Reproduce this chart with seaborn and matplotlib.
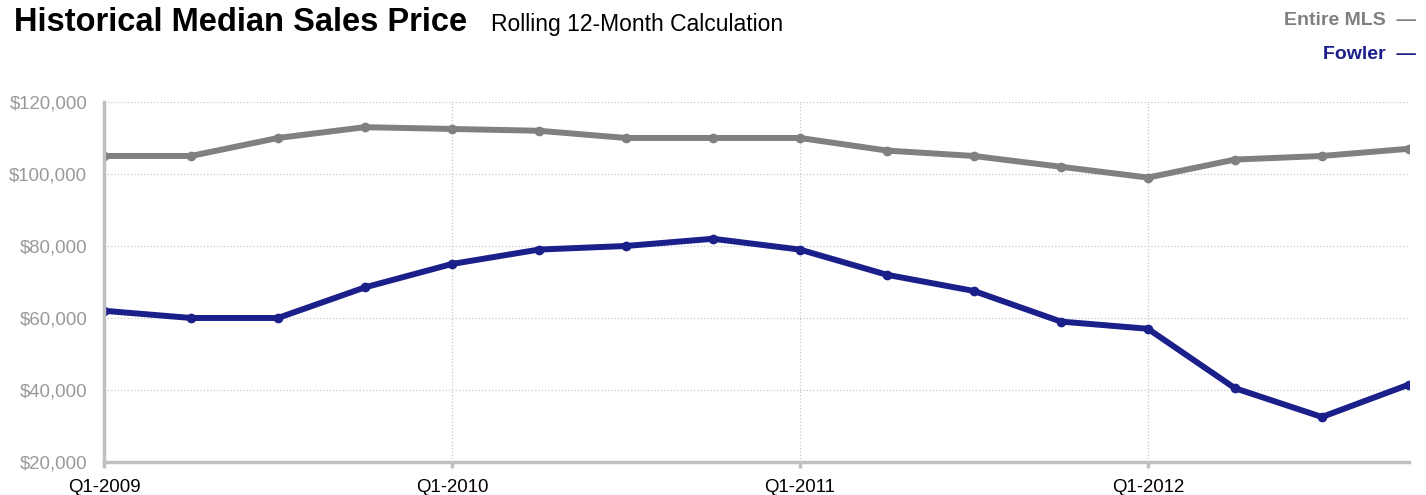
# Historical median sales price, rolling 12-month, Entire MLS vs Fowler

import pandas as pd
import matplotlib
matplotlib.use('Agg')
import matplotlib.pyplot as plt
import seaborn as sns

quarters = ['Q1-2009', 'Q2-2009', 'Q3-2009', 'Q4-2009',
            'Q1-2010', 'Q2-2010', 'Q3-2010', 'Q4-2010',
            'Q1-2011', 'Q2-2011', 'Q3-2011', 'Q4-2011',
            'Q1-2012', 'Q2-2012', 'Q3-2012', 'Q4-2012']
entire_mls = [105000, 105000, 110000, 113000, 112500, 112000, 110000, 110000,
              110000, 106500, 105000, 102000, 99000, 104000, 105000, 107000]
fowler = [62000, 60000, 60000, 68500, 75000, 79000, 80000, 82000,
          79000, 72000, 67500, 59000, 57000, 40500, 32500, 41500]
y_ticks = [20000, 40000, 60000, 80000, 100000, 120000]

gray = '#808080'
blue = '#1b1f8a'

df = pd.DataFrame({
    'q': list(range(len(quarters))) * 2,
    'price': entire_mls + fowler,
    'area': ['Entire MLS'] * len(quarters) + ['Fowler'] * len(quarters),
})

sns.set_style('white')
plt.rcParams['font.family'] = ['Liberation Sans', 'DejaVu Sans']

fig = plt.figure(figsize=(14.26, 4.95), dpi=100)
ax = fig.add_axes([0.0729, 0.0667, 0.9151, 0.7273])

sns.lineplot(data=df, x='q', y='price', hue='area', palette={'Entire MLS': gray, 'Fowler': blue},
             marker='o', markersize=7, markeredgewidth=0, linewidth=4.3, legend=False, ax=ax)

ax.set_xlim(0, len(quarters) - 1)
ax.set_ylim(20000, 120000)
ax.set_yticks(y_ticks)
ax.set_yticklabels([f'${v:,}' for v in y_ticks], color='#999999', fontsize=13.4)
xt = [i for i, q in enumerate(quarters) if q.startswith('Q1')]
ax.set_xticks(xt)
ax.set_xticklabels([quarters[i] for i in xt], color='black', fontsize=13.4)
ax.set_xlabel('')
ax.set_ylabel('')

ax.grid(True, color='#c8c8c8', linestyle=':', linewidth=0.9)
ax.axvline(len(quarters) - 1, color='#c8c8c8', linestyle=':', linewidth=0.9)
for s in ['top', 'right']:
    ax.spines[s].set_visible(False)
for s in ['left', 'bottom']:
    ax.spines[s].set_color('#c0c0c0')
    ax.spines[s].set_linewidth(2.5)
ax.tick_params(axis='x', length=4, width=2.5, color='#c0c0c0', pad=8, direction='out', bottom=True)
ax.tick_params(axis='y', length=0, pad=12)

# title + subtitle
fig.text(0.01, 0.955, 'Historical Median Sales Price', fontsize=23.5, fontweight='bold',
         color='black', va='center', ha='left')
fig.text(0.344, 0.95, 'Rolling 12-Month Calculation', fontsize=16.5,
         color='black', va='center', ha='left')

# legend text on the right
fig.text(0.993, 0.958, 'Entire MLS  —', color=gray, fontsize=14, fontweight='bold', ha='right', va='center')
fig.text(0.993, 0.89, 'Fowler  —', color=blue, fontsize=14, fontweight='bold', ha='right', va='center')

fig.savefig('out.png', dpi=100)
